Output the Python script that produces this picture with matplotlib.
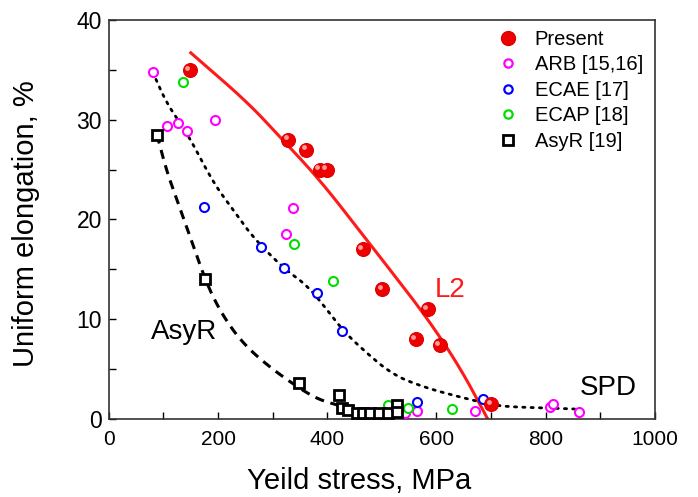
import matplotlib
matplotlib.use("Agg")
import matplotlib.pyplot as plt
from matplotlib.transforms import ScaledTranslation
from matplotlib.lines import Line2D
import numpy as np

plt.rcParams['font.family'] = ['Liberation Sans', 'DejaVu Sans']

# Data
present_x = [148, 328, 362, 386, 399, 465, 500, 562, 584, 606, 700]
present_y = [35.0, 28.0, 27.0, 25.0, 25.0, 17.0, 13.0, 8.0, 11.0, 7.4, 1.5]

arb_x = [80, 106, 127, 143, 194, 337, 324, 542, 564, 670, 808, 813, 861]
arb_y = [34.8, 29.4, 29.7, 28.9, 30.0, 21.1, 18.5, 0.6, 0.8, 0.8, 1.2, 1.5, 0.7]

ecae_x = [174, 278, 320, 381, 427, 564, 685]
ecae_y = [21.2, 17.2, 15.1, 12.6, 8.8, 1.7, 2.0]

ecap_x = [136, 339, 411, 511, 548, 628]
ecap_y = [33.8, 17.5, 13.8, 1.4, 1.1, 1.0]

asyr_x = [88, 176, 348, 421, 427, 438, 454, 466, 478, 495, 511, 527, 527]
asyr_y = [28.5, 14.0, 3.6, 2.4, 1.1, 0.9, 0.6, 0.6, 0.6, 0.6, 0.6, 1.4, 0.7]

# Trend lines
l2_x = [150, 253, 313, 386, 466, 520, 582, 643, 694]
l2_y = [36.7, 31.8, 28.3, 24.0, 18.4, 14.6, 10.2, 5.2, 0.0]

spd_x = [80, 106, 143, 191, 227, 264, 320, 363, 399, 427, 460, 520, 582, 643, 703, 740, 804, 853]
spd_y = [34.8, 31.6, 28.7, 23.7, 21.0, 18.2, 15.1, 13.4, 11.0, 9.0, 7.2, 4.4, 3.1, 2.2, 1.4, 1.2, 1.1, 1.0]

asyr_fit_x = [88, 105, 125, 145, 176, 200, 227, 250, 277, 319, 374, 410, 450, 520]
asyr_fit_y = [28.5, 25.0, 21.9, 18.9, 14.0, 11.2, 8.9, 7.4, 6.0, 4.2, 2.2, 1.5, 1.0, 0.5]


def chaikin(xs, ys, n=4):
    """Corner-cutting to draw a smooth path through the read points."""
    p = np.column_stack([xs, ys]).astype(float)
    for _ in range(n):
        q = 0.75 * p[:-1] + 0.25 * p[1:]
        r = 0.25 * p[:-1] + 0.75 * p[1:]
        mid = np.empty((2 * len(q), 2))
        mid[0::2] = q
        mid[1::2] = r
        p = np.vstack([p[:1], mid, p[-1:]])
    return p[:, 0], p[:, 1]


fig = plt.figure(figsize=(6.98, 4.97), dpi=100)
ax = fig.add_axes([0.156, 0.157, 0.782, 0.803])

ax.plot(*chaikin(l2_x, l2_y), color='#ff1a1a', lw=2.2, zorder=2)
ax.plot(*chaikin(spd_x, spd_y), color='black', lw=2.0, linestyle=(0, (0.8, 2.2)),
        dash_capstyle='round', zorder=2)
ax.plot(*chaikin(asyr_fit_x, asyr_fit_y), color='black', lw=2.2, linestyle=(0, (3.0, 2.2)), zorder=2)

ax.plot(arb_x, arb_y, 'o', ms=6.5, mfc='white', mec='#ff00ff', mew=1.5, ls='none', zorder=3)
ax.plot(ecae_x, ecae_y, 'o', ms=6.5, mfc='white', mec='#0000ff', mew=1.5, ls='none', zorder=3)
ax.plot(ecap_x, ecap_y, 'o', ms=6.5, mfc='white', mec='#00dd00', mew=1.5, ls='none', zorder=3)
ax.plot(asyr_x, asyr_y, 's', ms=7, mfc='white', mec='black', mew=2.0, ls='none', zorder=3)

ax.plot(present_x, present_y, 'o', ms=10, mfc='#ee0000', mec='#dd0000', mew=0.8, ls='none', zorder=4)
hl = ax.transData + ScaledTranslation(-1.6 / 72, 1.6 / 72, fig.dpi_scale_trans)
ax.plot(present_x, present_y, 'o', ms=3.5, mfc='#ff9a9a', mec='none', ls='none', transform=hl, zorder=5)

ax.set_xlim(0, 1000)
ax.set_ylim(0, 40)
ax.set_xticks(np.arange(0, 1001, 200))
ax.set_xticks(np.arange(0, 1001, 100), minor=True)
ax.set_yticks(np.arange(0, 41, 10))
ax.set_yticks(np.arange(0, 41, 5), minor=True)
ax.tick_params(which='both', direction='in', top=False, right=False, length=5, width=1)
ax.tick_params(axis='x', labelsize=15, pad=8)
ax.tick_params(axis='y', labelsize=16.5, pad=5)
for s in ax.spines.values():
    s.set_linewidth(1.2)
    s.set_color('#333333')

ax.set_xlabel('Yeild stress, MPa', fontsize=21, va='center')
ax.xaxis.set_label_coords(0.458, -0.155)
ax.set_ylabel('Uniform elongation, %', fontsize=21, va='center')
ax.yaxis.set_label_coords(-0.152, 0.49)

ax.text(137, 8.7, 'AsyR', fontsize=20, ha='center', va='center')
ax.text(625, 12.9, 'L2', fontsize=20, ha='center', va='center', color='#ff1a1a')
ax.text(914, 3.1, 'SPD', fontsize=20, ha='center', va='center')

handles = [
    Line2D([], [], marker='o', ms=10, mfc='#ee0000', mec='#dd0000', ls='none'),
    Line2D([], [], marker='o', ms=6, mfc='white', mec='#ff00ff', mew=1.6, ls='none'),
    Line2D([], [], marker='o', ms=6, mfc='white', mec='#0000ff', mew=1.6, ls='none'),
    Line2D([], [], marker='o', ms=6, mfc='white', mec='#00dd00', mew=1.6, ls='none'),
    Line2D([], [], marker='s', ms=6.5, mfc='white', mec='black', mew=2.0, ls='none'),
]
labels = ['Present', 'ARB [15,16]', 'ECAE [17]', 'ECAP [18]', 'AsyR [19]']
ax.legend(handles, labels, loc='upper left', bbox_to_anchor=(0.677, 1.01), frameon=False,
          fontsize=14.5, handletextpad=0.6, labelspacing=0.32, borderpad=0.2, handlelength=1.5)

fig.savefig('out.png', dpi=100)
